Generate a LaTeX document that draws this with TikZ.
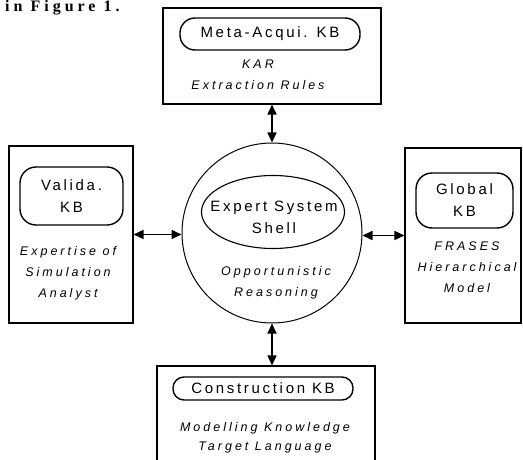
\documentclass[tikz,border=0pt]{standalone}
\usepackage{fontspec}
\setmainfont{Liberation Serif}
\newfontfamily\kbfont[LetterSpace=18]{Liberation Sans}
\newfontfamily\notefont[LetterSpace=24]{Liberation Sans}
\newfontfamily\captfont[LetterSpace=25]{Liberation Serif}
\usetikzlibrary{arrows.meta,shapes.geometric}
\tikzset{
  panel/.style={draw, line width=1.1pt, inner sep=0pt},
  kb/.style={draw, line width=1.4pt, rounded corners=#1, align=center,
    inner sep=0pt, font=\kbfont\fontsize{15}{22}\selectfont},
  kb/.default=15pt,
  note/.style={align=center, inner sep=0pt, font=\notefont\itshape\fontsize{12.5}{21}\selectfont},
  link/.style={{Triangle[length=10pt,width=9pt]}-{Triangle[length=10pt,width=9pt]}, line width=1.6pt}
}
\begin{document}
\begin{tikzpicture}[x=1pt,y=-1pt]
  \useasboundingbox (0,0) rectangle (523,460);
  \node[anchor=base west, inner sep=0pt, font=\captfont\bfseries\fontsize{16}{18}\selectfont] (capt) at (5,12) {in Figure 1.};

  \node[panel, minimum width=218pt, minimum height=96pt] (metapanel) at (272,56) {};
  \node[kb, minimum width=180pt, minimum height=32pt] (metakb) at (270,34) {Meta-Acqui. KB};
  \node[note] (metanote) at (258,75) {KAR\\Extraction Rules};

  \node[panel, minimum width=124pt, minimum height=177pt] (validpanel) at (71,234.5) {};
  \node[kb=16pt, minimum width=103pt, minimum height=58pt] (validkb) at (71.5,196) {Valida.\\KB};
  \node[note] (validnote) at (68,273) {Expertise of\\Simulation\\Analyst};

  \node[panel, minimum width=116pt, minimum height=175pt] (globalpanel) at (463,235.5) {};
  \node[kb=16pt, minimum width=97pt, minimum height=55pt] (globalkb) at (464.5,200.5) {Global\\KB};
  \node[note] (globalnote) at (467,267) {FRASES\\Hierarchical\\Model};

  \node[panel, minimum width=218pt, minimum height=114pt] (conpanel) at (266,423) {};
  \node[kb=11pt, minimum width=180pt, minimum height=23pt] (conkb) at (263,388.5) {Construction KB};
  \node[note, font=\notefont\itshape\fontsize{12.5}{19.5}\selectfont] (connote) at (265,438) {Modelling Knowledge\\Target Language};

  \node[draw, circle, line width=1pt, minimum size=180pt, inner sep=0pt] (shell) at (272,233) {};
  \node[draw, ellipse, line width=1.1pt, minimum width=143pt, minimum height=73pt, inner sep=0pt] (esshell) at (273,212) {};
  \node[align=center, inner sep=0pt, font=\kbfont\fontsize{15}{22}\selectfont] (eslabel) at (274,217) {Expert System\\Shell};
  \node[note] (shellnote) at (276,283) {Opportunistic\\Reasoning};

  \draw[link] (metapanel.south -| shell.north) -- (shell.north);
  \draw[link] (validpanel.east) -- (validpanel.east -| shell.west);
  \draw[link] (globalpanel.west -| shell.east) -- (globalpanel.west);
  \draw[link] (shell.south) -- (shell.south |- conpanel.north);
\end{tikzpicture}
\end{document}
